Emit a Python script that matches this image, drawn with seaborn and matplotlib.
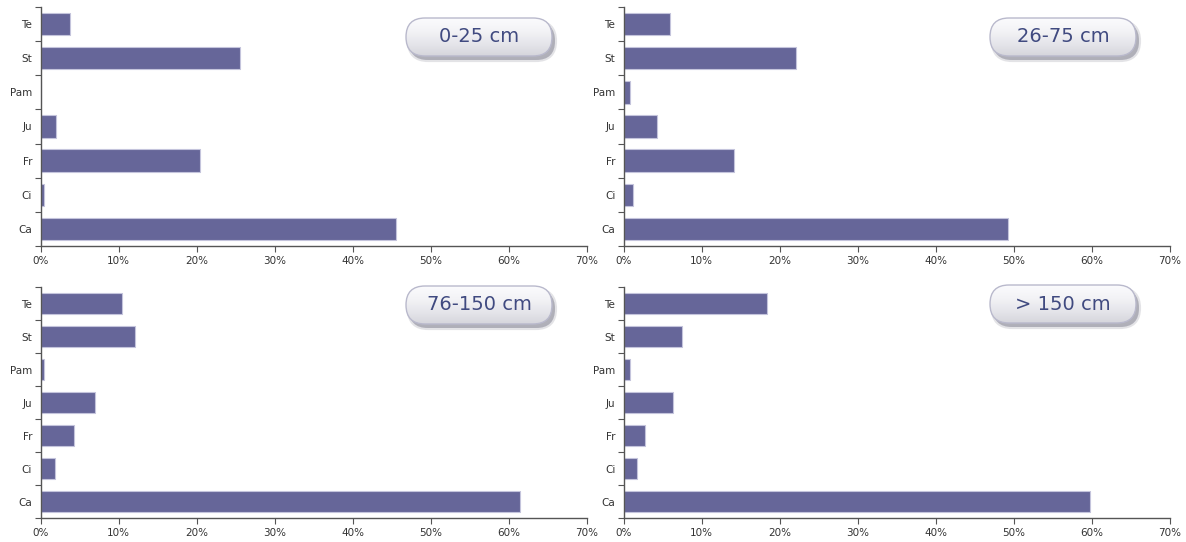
import numpy as np
import pandas as pd
import matplotlib
matplotlib.use("Agg")
import matplotlib.pyplot as plt
import seaborn as sns
from matplotlib.patches import FancyBboxPatch
from matplotlib.ticker import FuncFormatter, FixedLocator
import matplotlib.patheffects as pe

# categories top to bottom
categories = ["Te", "St", "Pam", "Ju", "Fr", "Ci", "Ca"]
depth_labels = ["0-25 cm", "26-75 cm", "76-150 cm", "> 150 cm"]

# shares in %
vals_0_25 = [3.8, 25.6, 0.0, 2.0, 20.4, 0.4, 45.5]
vals_26_75 = [5.9, 22.1, 0.8, 4.3, 14.1, 1.2, 49.3]
vals_76_150 = [10.4, 12.1, 0.5, 7.0, 4.3, 1.8, 61.5]
vals_150_plus = [18.4, 7.5, 0.8, 6.3, 2.7, 1.7, 59.7]

x_ticks = [0, 10, 20, 30, 40, 50, 60, 70]

df = pd.DataFrame({
    "Depth": np.repeat(depth_labels, len(categories)),
    "Category": categories * 4,
    "Share": vals_0_25 + vals_26_75 + vals_76_150 + vals_150_plus,
})

sns.set_style("white")
plt.rcParams["font.family"] = ["DejaVu Sans"]

W, H = 1186, 542
fig = plt.figure(figsize=(W / 100, H / 100), dpi=100)

# axes boxes in pixels: left, top, right, bottom
boxes = [
    (40.5, 7, 586.7, 246),
    (623.7, 7, 1170, 246),
    (40.5, 287, 586.7, 518),
    (623.7, 287, 1170, 518),
]
# label pills: center x, center y (pixels)
pills = [(479, 37), (1063, 37), (479, 305), (1063, 304)]

bar_color = "#666699"
axis_color = "#555555"

for depth, (l, t, r, b), (pcx, pcy) in zip(depth_labels, boxes, pills):
    ax = fig.add_axes([l / W, 1 - b / H, (r - l) / W, (b - t) / H])
    sns.barplot(
        data=df[df["Depth"] == depth],
        x="Share", y="Category", order=categories, orient="h",
        color=bar_color, saturation=1, width=0.66,
        edgecolor="#c4c4dc", linewidth=0.8, ax=ax,
    )
    ax.set_xlim(0, 70)
    ax.set_ylim(6.5, -0.5)
    ax.set_xlabel("")
    ax.set_ylabel("")
    ax.xaxis.set_major_locator(FixedLocator(x_ticks))
    ax.xaxis.set_major_formatter(FuncFormatter(lambda v, p: f"{v:.0f}%"))
    ax.yaxis.set_minor_locator(FixedLocator(np.arange(-0.5, 7, 1)))
    ax.tick_params(axis="y", which="major", left=True, length=0, pad=6,
                   labelsize=7.5, labelcolor="#333333")
    ax.tick_params(axis="y", which="minor", left=True, length=4, width=0.8,
                   color=axis_color, direction="out")
    ax.tick_params(axis="x", which="major", bottom=True, length=4, width=0.8, color=axis_color,
                   direction="out", labelsize=7.5, labelcolor="#333333", pad=3)
    sns.despine(ax=ax)
    for s in ["left", "bottom"]:
        ax.spines[s].set_color(axis_color)
        ax.spines[s].set_linewidth(1.0)

    # pill label with gradient and soft shadow
    pw, ph = 146, 38
    pax = fig.add_axes([(pcx - pw / 2 - 6) / W, 1 - (pcy + ph / 2 + 8) / H,
                        (pw + 14) / W, (ph + 16) / H])
    pax.set_xlim(-pw / 2 - 6, pw / 2 + 8)
    pax.set_ylim(-ph / 2 - 8, ph / 2 + 8)
    pax.axis("off")
    rad = ph / 2
    shadow = FancyBboxPatch((-pw / 2 + rad + 3, -ph / 2 + rad - 4), pw - 2 * rad, ph - 2 * rad,
                            boxstyle=f"round,pad={rad}", facecolor="#9a9aa6", edgecolor="none",
                            alpha=0.55, zorder=1)
    shadow.set_path_effects([pe.withStroke(linewidth=3, foreground="#c8c8cf", alpha=0.5)])
    pax.add_patch(shadow)
    pill = FancyBboxPatch((-pw / 2 + rad, -ph / 2 + rad), pw - 2 * rad, ph - 2 * rad,
                          boxstyle=f"round,pad={rad}", facecolor="none",
                          edgecolor="#b9b9cc", linewidth=1.0, zorder=3)
    pax.add_patch(pill)
    grad = np.linspace(0, 1, 64).reshape(-1, 1)
    cmap = matplotlib.colors.LinearSegmentedColormap.from_list(
        "pill", ["#d6d6dc", "#e6e6eb", "#f3f3f6", "#fbfbfd"])
    im = pax.imshow(grad, extent=(-pw / 2, pw / 2, -ph / 2, ph / 2), origin="lower",
                    cmap=cmap, aspect="auto", zorder=2)
    im.set_clip_path(pill)
    pax.text(0, 0, depth, ha="center", va="center", fontsize=14, color="#404a80", zorder=4)

fig.savefig("out.png", dpi=100)
